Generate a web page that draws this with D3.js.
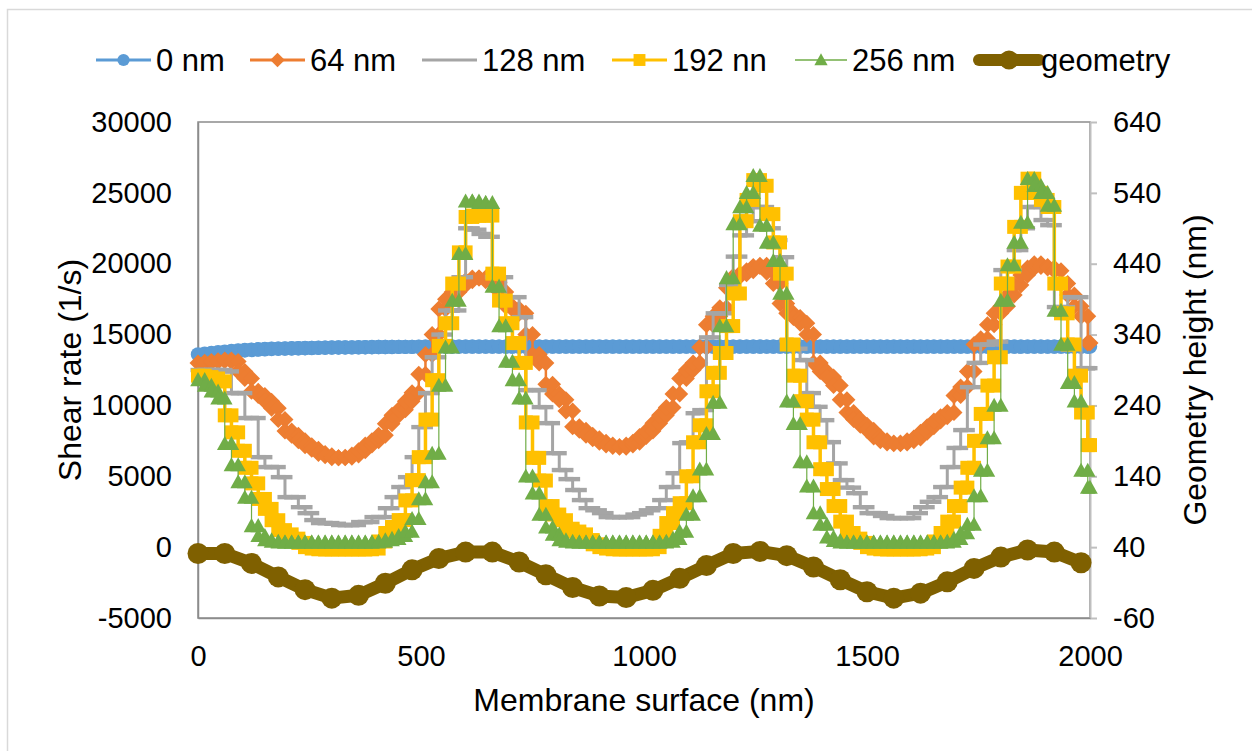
<!DOCTYPE html>
<html>
<head>
<meta charset="utf-8">
<script src="https://cdn.jsdelivr.net/npm/d3@7"></script>
<style>
  body { margin: 0; background: #ffffff; }
  svg { display: block; font-family: "Liberation Sans", Arial, sans-serif; }
</style>
</head>
<body>
<svg id="chart" width="1252" height="751"></svg>
<script>
// Left edge of each surface cell (nm); the last cell closes at 2000 nm
const surfaceNm = [
  0,15,30,45,60,75,90,105,120,135,150,165,180,195,210,225,240,255,270,285,
  300,315,330,345,360,375,390,405,420,435,450,465,480,495,510,525,540,555,570,585,
  600,615,630,645,660,675,690,705,720,735,750,765,780,795,810,825,840,855,870,885,
  900,915,930,945,960,975,990,1005,1020,1035,1050,1065,1080,1095,1110,1125,1140,1155,1170,1185,
  1200,1215,1230,1245,1260,1275,1290,1305,1320,1335,1350,1365,1380,1395,1410,1425,1440,1455,1470,1485,
  1500,1515,1530,1545,1560,1575,1590,1605,1620,1635,1650,1665,1680,1695,1710,1725,1740,1755,1770,1785,
  1800,1815,1830,1845,1860,1875,1890,1905,1920,1935,1950,1965,1980,1995
];
const surfaceEndNm = 2000;

// Cell-averaged shear rate (1/s) at each distance from the surface
const shear0nm = [
  13600,13650,13700,13750,13800,13840,13880,13910,13940,13960,
  13980,14000,14010,14020,14030,14040,14050,14060,14070,14080,
  14090,14090,14100,14100,14110,14110,14120,14120,14120,14130,
  14130,14130,14130,14140,14140,14140,14140,14140,14150,14150,
  14150,14150,14150,14150,14150,14150,14150,14150,14150,14150,
  14150,14150,14150,14150,14150,14150,14150,14150,14150,14150,
  14150,14150,14150,14150,14150,14150,14150,14150,14150,14150,
  14150,14150,14150,14150,14150,14150,14150,14150,14150,14150,
  14150,14150,14150,14150,14150,14150,14150,14150,14150,14150,
  14150,14150,14150,14150,14150,14150,14150,14150,14150,14150,
  14150,14150,14150,14150,14150,14150,14150,14150,14150,14150,
  14150,14150,14150,14150,14150,14150,14150,14150,14150,14150,
  14150,14150,14150,14150,14150,14150,14150,14150,14150,14150,
  14150,14150,14150,14150
];

const shear64nm = [
  13000,13050,13100,13150,13200,13100,12400,11900,11000,10700,
  10300,9800,9000,8200,7900,7500,7150,6900,6600,6450,
  6300,6300,6350,6500,6800,7200,7500,7900,8700,9300,
  9700,10300,10900,12200,13600,15000,16800,17500,18000,18500,
  18800,19000,19000,18800,18700,18000,17000,16800,16500,15000,
  13600,13000,11500,10800,10400,9600,8500,8250,7900,7650,
  7400,7200,7100,7050,7200,7400,7800,8200,8750,9300,
  9850,10800,11900,12500,13000,14100,15700,16300,16900,18300,
  19100,19300,19500,19800,19900,19400,18600,17200,16500,16200,
  15800,15000,13000,12400,12000,11400,10400,9500,9000,8600,
  8250,7770,7500,7340,7300,7340,7500,7700,8100,8500,
  8900,9200,9500,10700,11300,12400,14300,14700,15700,16500,
  17000,17800,18500,19200,19700,20000,19800,19700,19500,18600,
  17800,17000,16300,14400
];

const shear128nm = [
  12500,12500,12500,12500,12400,10870,10870,9110,9110,6350,
  5650,5650,4940,3530,3530,2820,2400,1910,1700,1700,
  1650,1560,1560,1560,1770,1770,2120,2120,2750,3530,
  4240,4940,6350,8470,10870,13400,15000,16700,16700,19050,
  22500,22400,22100,21900,19050,19050,17640,17640,16230,11080,
  11080,9880,8750,6630,5440,4800,4030,3320,2750,2600,
  2400,2120,2120,2120,2120,2300,2400,2600,2750,3320,
  4240,5220,7340,7400,9450,9670,14800,16500,16500,18500,
  20500,22000,23000,24000,24000,22500,21670,20460,14600,14000,
  13200,10870,9900,8960,7410,5910,4730,4200,3810,2820,
  2400,2400,2200,2050,2050,2050,2050,2400,2820,3200,
  3530,4240,5650,7000,8260,11290,13000,14300,14300,14500,
  19550,19550,20960,22500,24000,24000,23080,22720,16940,16940,
  17640,17640,12630,12630
];

const shear192nm = [
  12100,12000,11900,11700,9300,8100,6800,5600,4500,3400,
  2700,1900,1200,900,600,300,0,-100,-150,-150,
  -150,-150,-150,-150,-150,-150,-100,400,1000,1420,
  1910,3300,4730,6350,9000,11780,14200,15800,18600,20800,
  23300,23400,23400,23400,19300,17400,15800,14400,13000,8800,
  6300,4700,2900,2300,1900,1300,1100,900,500,200,
  0,-100,-150,-150,-150,-150,-150,-150,0,800,
  1700,2400,3100,5000,7400,8600,11000,12300,13700,15600,
  17900,23000,24500,25900,25500,23500,21500,19300,14300,12100,
  10300,9000,7400,5500,4100,2900,1800,1000,600,300,
  0,-100,-150,-150,-150,-150,-150,-150,-100,0,
  400,1000,1800,2900,4200,5600,7500,9400,11400,13400,
  18600,19800,22600,25000,26000,25000,24500,24000,18600,16500,
  14300,12100,9500,7200
];

const shear256nm = [
  11800,11400,11000,10500,7300,5800,4600,3500,1500,800,
  500,400,350,350,350,350,350,350,350,350,
  350,350,350,350,350,350,350,400,500,600,
  800,1100,2000,3400,4600,6600,11400,14100,17400,20700,
  24400,24400,24300,24300,18400,15600,13100,11800,10500,5000,
  3800,2300,1400,900,500,400,350,350,350,350,
  350,350,350,350,350,350,350,350,350,350,
  400,600,1100,2300,3600,5500,8000,10200,15600,19000,
  22800,24000,25000,26200,22700,21500,20200,17900,10300,8700,
  6000,4300,2400,1600,700,450,350,350,350,350,
  350,350,350,350,350,350,350,350,350,350,
  350,350,400,600,1000,1600,3600,5400,7700,10000,
  17400,19900,21500,22900,26000,25500,25000,24100,16700,14300,
  11600,10300,5400,4200
];

// Surface geometry profile (secondary axis)
const geometryNm = [
  0,60,120,180,240,300,360,420,480,540,600,660,720,780,840,900,960,
  1020,1080,1140,1200,1260,1320,1380,1440,1500,1560,1620,1680,1740,1800,1860,1920,1980
];
const geometryHeight = [
  31,31,17,-2,-20,-32,-28,-11,8,24,33,33,19,1,-17,-29,-31,
  -21,-4,14,31,34,28,12,-6,-23,-32,-25,-9,10,26,36,33,18
];

const shearTicks = [-5000, 0, 5000, 10000, 15000, 20000, 25000, 30000];
const heightTicks = [-60, 40, 140, 240, 340, 440, 540, 640];
const surfaceTicks = [0, 500, 1000, 1500, 2000];

const seriesNames = ["0 nm", "64 nm", "128 nm", "192 nn", "256 nm", "geometry"];

// ---- layout ----
const W = 1252, H = 751;
const plot = { left: 198, right: 1090, top: 122, bottom: 618 };

const svg = d3.select("#chart");
svg.append("rect").attr("width", W).attr("height", H).attr("fill", "#ffffff");
// chart area border
svg.append("rect")
  .attr("x", 7.5).attr("y", 9.5).attr("width", 1260).attr("height", 760)
  .attr("fill", "none").attr("stroke", "#d9d9d9").attr("stroke-width", 1.5);

const x = d3.scaleLinear().domain([0, 2000]).range([plot.left, plot.right]);
const yShear = d3.scaleLinear().domain([-5000, 30000]).range([plot.bottom, plot.top]);
const yHeight = d3.scaleLinear().domain([-60, 640]).range([plot.bottom, plot.top]);

// plot area frame
svg.append("rect")
  .attr("x", plot.left).attr("y", plot.top)
  .attr("width", plot.right - plot.left).attr("height", plot.bottom - plot.top)
  .attr("fill", "none").attr("stroke", "#8c8c8c").attr("stroke-width", 1.5);

// axes (plain hyphen for negative numbers)
const plainNumber = d => String(d);
const tickFont = 29;
const gLeft = svg.append("g").attr("transform", `translate(${plot.left},0)`)
  .call(d3.axisLeft(yShear).tickValues(shearTicks).tickSize(0).tickPadding(26).tickFormat(plainNumber));
const gRight = svg.append("g").attr("transform", `translate(${plot.right},0)`)
  .call(d3.axisRight(yHeight).tickValues(heightTicks).tickSizeInner(7).tickSizeOuter(0).tickPadding(16).tickFormat(plainNumber));
const gBottom = svg.append("g").attr("transform", `translate(0,${plot.bottom})`)
  .call(d3.axisBottom(x).tickValues(surfaceTicks).tickSize(0).tickPadding(27).tickFormat(plainNumber));

[gLeft, gRight, gBottom].forEach(g => {
  g.selectAll("text").attr("font-size", tickFont).attr("fill", "#000000")
    .attr("font-family", "'Liberation Sans', Arial, sans-serif");
});
gLeft.select(".domain").attr("stroke", "#8c8c8c").attr("stroke-width", 1.5);
gBottom.select(".domain").attr("stroke", "#8c8c8c").attr("stroke-width", 1.5);
gRight.select(".domain").attr("stroke", "#bfbfbf").attr("stroke-width", 2);
gRight.selectAll(".tick line").attr("stroke", "#bfbfbf").attr("stroke-width", 2);

// axis titles
svg.append("text").attr("x", (plot.left + plot.right) / 2).attr("y", 711)
  .attr("text-anchor", "middle").attr("font-size", 32).text("Membrane surface (nm)");
svg.append("text").attr("transform", `translate(81,370) rotate(-90)`)
  .attr("text-anchor", "middle").attr("font-size", 32).text("Shear rate (1/s)");
svg.append("text").attr("transform", `translate(1206,370) rotate(-90)`)
  .attr("text-anchor", "middle").attr("font-size", 32).text("Geometry height (nm)");

// ---- marker shapes ----
const markerPath = {
  circle: r => d3.symbol(d3.symbolCircle, Math.PI * r * r)(),
  diamond: r => `M0,${-r}L${r},0L0,${r}L${-r},0Z`,
  square: r => `M${-r},${-r}H${r}V${r}H${-r}Z`,
  triangle: r => `M0,${-r}L${r},${r * 0.8}L${-r},${r * 0.8}Z`,
  dash: r => `M${-r},-2.2H${r}V2.2H${-r}Z`
};

const styles = [
  { color: "#5B9BD5", width: 2.5, marker: "circle", size: 7.2 },
  { color: "#ED7D31", width: 2.5, marker: "diamond", size: 8.5 },
  { color: "#A5A5A5", width: 3,   marker: "dash", size: 7.5 },
  { color: "#FFC000", width: 3.5, marker: "square", size: 7 },
  { color: "#70AD47", width: 1.2, marker: "triangle", size: 7.8 },
  { color: "#7F6000", width: 13,  marker: "circle", size: 10.5 }
];

// each cell value is reported at both edges of its cell
function cellEdgePoints(values) {
  const pts = [];
  values.forEach((v, i) => {
    const x0 = surfaceNm[i];
    const x1 = i + 1 < surfaceNm.length ? surfaceNm[i + 1] : surfaceEndNm;
    pts.push([x0, v], [x1, v]);
  });
  return pts;
}

const shearSeries = [shear0nm, shear64nm, shear128nm, shear192nm, shear256nm];

shearSeries.forEach((vals, si) => {
  const st = styles[si];
  const pts = cellEdgePoints(vals);
  const line = d3.line().x(d => x(d[0])).y(d => yShear(d[1]));
  const g = svg.append("g");
  g.append("path").datum(pts).attr("d", line)
    .attr("fill", "none").attr("stroke", st.color).attr("stroke-width", st.width)
    .attr("stroke-linejoin", "round");
  g.selectAll("path.m").data(pts).join("path").attr("class", "m")
    .attr("transform", d => `translate(${x(d[0])},${yShear(d[1])})`)
    .attr("d", markerPath[st.marker](st.size))
    .attr("fill", st.color);
});

// geometry on the secondary axis
{
  const st = styles[5];
  const pts = geometryHeight.map((v, i) => [geometryNm[i], v]);
  const line = d3.line().x(d => x(d[0])).y(d => yHeight(d[1]));
  const g = svg.append("g");
  g.append("path").datum(pts).attr("d", line)
    .attr("fill", "none").attr("stroke", st.color).attr("stroke-width", st.width)
    .attr("stroke-linejoin", "round").attr("stroke-linecap", "round");
  g.selectAll("circle").data(pts).join("circle")
    .attr("cx", d => x(d[0])).attr("cy", d => yHeight(d[1])).attr("r", st.size)
    .attr("fill", st.color);
}

// ---- legend ----
const legendFont = 31;
const legendY = 60;
// left edge of each legend entry's line sample, and sample lengths
const legendSampleX = [96, 250, 422, 612, 795, 979];
const legendSampleLen = [55, 55, 55, 55, 52, 60];
const legend = svg.append("g");
seriesNames.forEach((name, i) => {
  const st = styles[i];
  const x0 = legendSampleX[i], len = legendSampleLen[i];
  const item = legend.append("g");
  item.append("line")
    .attr("x1", x0).attr("x2", x0 + len)
    .attr("y1", legendY).attr("y2", legendY)
    .attr("stroke", st.color).attr("stroke-width", i === 5 ? 12 : (i === 4 ? 1.5 : 3))
    .attr("stroke-linecap", i === 5 ? "round" : "butt");
  if (st.marker !== "dash") {
    item.append("path")
      .attr("transform", `translate(${x0 + len / 2},${legendY})`)
      .attr("d", markerPath[st.marker](i === 5 ? 9.5 : st.size * 0.85))
      .attr("fill", st.color);
  }
  item.append("text")
    .attr("x", x0 + len + (i === 5 ? 2 : 5)).attr("y", legendY).attr("dy", "0.35em")
    .attr("font-size", legendFont).text(name);
});
</script>
</body>
</html>
